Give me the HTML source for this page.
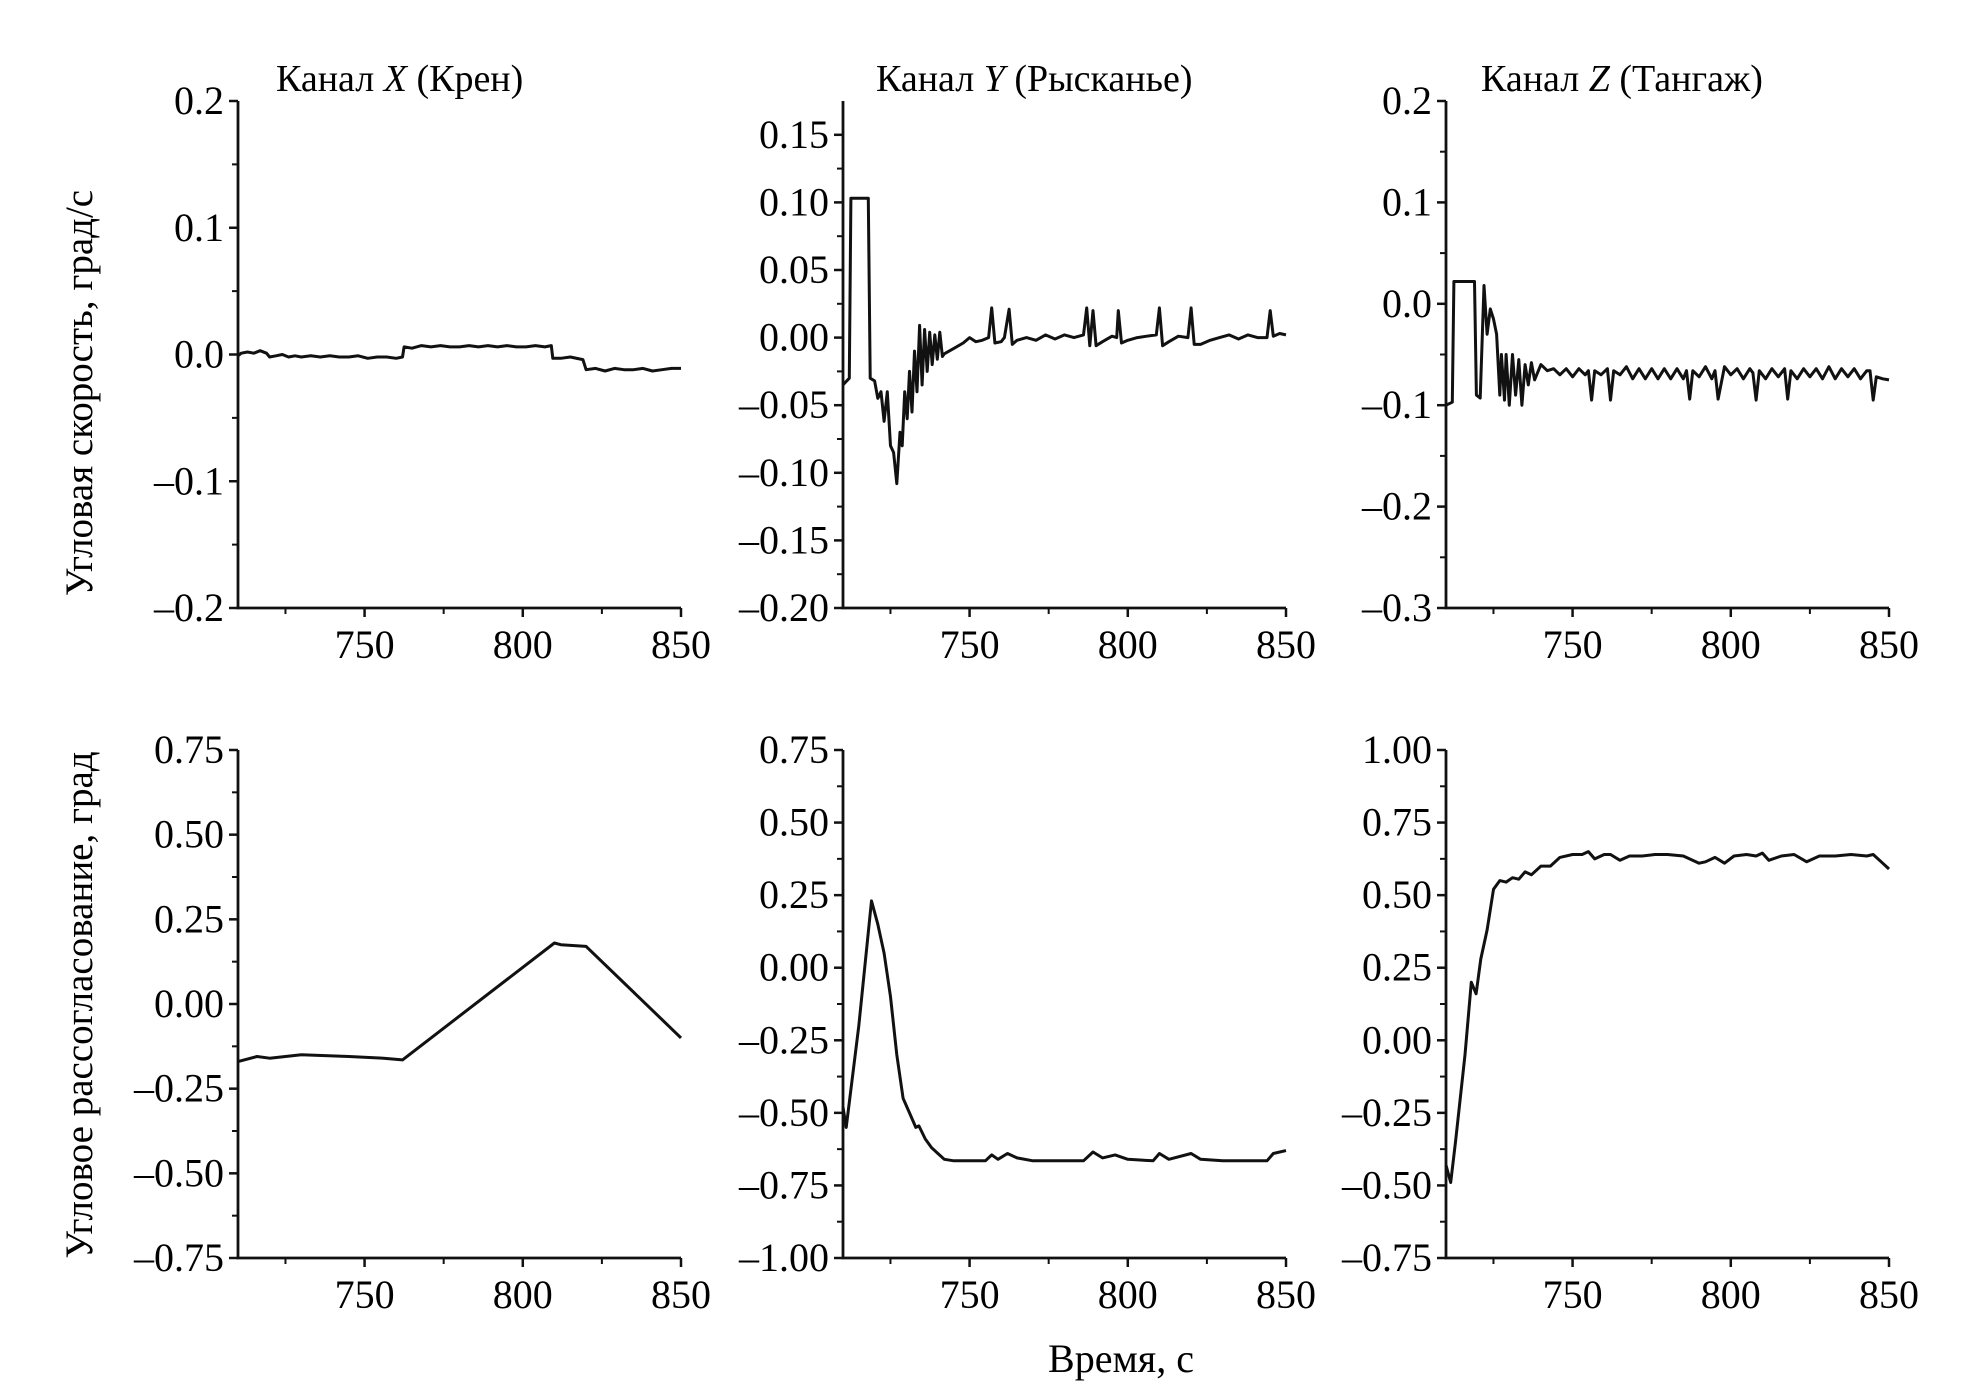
<!DOCTYPE html>
<html><head><meta charset="utf-8"><style>
html,body{margin:0;padding:0;background:#fff;}
svg{display:block;font-family:"Liberation Serif",serif;}
</style></head><body>
<svg id="fig" width="1972" height="1383" viewBox="0 0 1972 1383">
<text x="276" y="91" font-size="38">Канал <tspan font-style="italic">X</tspan> (Крен)</text>
<text x="876" y="91" font-size="38">Канал <tspan font-style="italic">Y</tspan> (Рысканье)</text>
<text x="1481" y="91" font-size="38">Канал <tspan font-style="italic">Z</tspan> (Тангаж)</text>
<text transform="translate(92,393) rotate(-90)" text-anchor="middle" font-size="39">Угловая скорость, град/с</text>
<text transform="translate(92,1005) rotate(-90)" text-anchor="middle" font-size="39">Угловое рассогласование, град</text>
<text x="1121" y="1372" text-anchor="middle" font-size="40">Время, с</text>
</svg>
<script>
// ---- data ----
const xTicks = [750, 800, 850];
const rateXt = [710,711,713,715,717,719,720,722,724,726,728,730,733,736,739,742,745,748,751,754,757,760,762,762.5,765,768,771,774,777,780,783,786,789,792,795,798,801,804,807,809,809.5,812,815,819,820,823,826,829,832,835,838,841,844,847,850];
const rateXv = [-0.001,0.001,0.002,0.001,0.003,0.001,-0.002,-0.001,0.0,-0.002,-0.001,-0.002,-0.001,-0.002,-0.001,-0.002,-0.002,-0.001,-0.003,-0.002,-0.002,-0.003,-0.002,0.006,0.005,0.007,0.006,0.007,0.006,0.006,0.007,0.006,0.007,0.006,0.007,0.006,0.006,0.007,0.006,0.007,-0.003,-0.003,-0.002,-0.004,-0.012,-0.011,-0.013,-0.011,-0.012,-0.012,-0.011,-0.013,-0.012,-0.011,-0.011];
const rateYt = [710,712,712.5,718,718.6,720,721,722,723,724,725,726,727,728,728.7,729.5,730.3,731,731.8,732.6,733.4,734.2,735,735.8,736.6,737.4,738.2,739,739.8,740.6,741.4,742,745,748,750,752,754,756,757,758,760,761,762.5,763.5,765,768,771,774,777,780,783,786,787,788,789,790,792,795,796.5,797,798,800,803,806,809,810,811,813,816,819,820,821,823,826,829,832,835,838,841,844,845,846,848,850];
const rateYv = [-0.035,-0.03,0.103,0.103,-0.03,-0.032,-0.045,-0.04,-0.062,-0.04,-0.08,-0.085,-0.108,-0.07,-0.08,-0.04,-0.06,-0.025,-0.055,-0.01,-0.04,0.009,-0.035,0.006,-0.025,0.004,-0.02,0.002,-0.016,0.004,-0.014,-0.012,-0.008,-0.004,0.0,-0.003,-0.002,0.0,0.022,-0.004,-0.003,0.0,0.021,-0.005,-0.002,0.0,-0.002,0.002,-0.001,0.002,0.0,0.002,0.022,-0.006,0.02,-0.006,-0.003,0.001,0.0,0.02,-0.004,-0.002,0.0,0.001,0.002,0.022,-0.006,-0.003,0.001,0.0,0.022,-0.005,-0.005,-0.002,0.0,0.002,-0.001,0.002,0.0,0.0,0.02,0.001,0.003,0.002];
const rateZt = [710,712,712.5,719,719.6,720.8,722,723,724,725,726,727,727.5,728.5,729,730,731,732,733,734,735,736,737,738,740,742,744,746,748,750,752,754,755,756,757,759,761,762,763,765,767,769,771,773,775,777,779,781,783,785,786,787,788,790,792,794,795,796,798,800,802,804,806,807,808,809,811,813,815,817,818,819,821,823,825,827,829,831,833,835,837,839,841,843,844,845,846,848,850];
const rateZv = [-0.1,-0.097,0.022,0.022,-0.09,-0.093,0.018,-0.03,-0.005,-0.015,-0.03,-0.09,-0.05,-0.095,-0.05,-0.1,-0.05,-0.09,-0.055,-0.1,-0.06,-0.08,-0.058,-0.075,-0.06,-0.066,-0.064,-0.07,-0.064,-0.072,-0.064,-0.07,-0.066,-0.095,-0.066,-0.07,-0.064,-0.095,-0.066,-0.07,-0.062,-0.074,-0.064,-0.074,-0.064,-0.074,-0.064,-0.074,-0.064,-0.074,-0.066,-0.094,-0.066,-0.072,-0.062,-0.074,-0.066,-0.094,-0.062,-0.07,-0.064,-0.074,-0.064,-0.068,-0.095,-0.066,-0.074,-0.064,-0.072,-0.064,-0.094,-0.066,-0.074,-0.064,-0.072,-0.064,-0.074,-0.062,-0.074,-0.064,-0.072,-0.064,-0.074,-0.066,-0.066,-0.095,-0.072,-0.074,-0.075];
const misXt = [710,716,720,730,745,756,762,810,812,820,850];
const misXv = [-0.17,-0.155,-0.16,-0.15,-0.155,-0.16,-0.165,0.18,0.175,0.17,-0.1];
const misYt = [710,711,715,719,721,723,725,727,729,731,733,734,736,738,740,742,745,750,755,757,759,762,765,770,786,789,792,796,800,808,810,813,820,823,830,844,846,850];
const misYv = [-0.48,-0.55,-0.2,0.23,0.15,0.05,-0.1,-0.3,-0.45,-0.5,-0.55,-0.545,-0.59,-0.62,-0.64,-0.66,-0.665,-0.665,-0.665,-0.645,-0.66,-0.64,-0.655,-0.665,-0.665,-0.635,-0.655,-0.645,-0.66,-0.665,-0.64,-0.66,-0.64,-0.66,-0.665,-0.665,-0.64,-0.63];
const misZt = [710,711.5,713,716,718,719.5,721,723,725,727,729,731,733,735,737,740,743,746,750,753,755,757,760,762,765,768,772,776,780,785,790,792,795,798,801,805,808,810,812,816,820,824,828,833,838,843,845,848,850];
const misZv = [-0.43,-0.49,-0.35,-0.05,0.2,0.16,0.28,0.38,0.52,0.55,0.545,0.56,0.555,0.58,0.57,0.6,0.6,0.63,0.64,0.64,0.65,0.625,0.64,0.64,0.62,0.635,0.635,0.64,0.64,0.635,0.61,0.615,0.63,0.61,0.635,0.64,0.635,0.645,0.62,0.635,0.64,0.615,0.635,0.635,0.64,0.635,0.64,0.61,0.59];
const yTicks1 = [-0.2,-0.1,0.0,0.1,0.2];
const yLabels1 = ["–0.2","–0.1","0.0","0.1","0.2"];
const yTicks2 = [-0.2,-0.15,-0.1,-0.05,0,0.05,0.1,0.15];
const yLabels2 = ["–0.20","–0.15","–0.10","–0.05","0.00","0.05","0.10","0.15"];
const yTicks3 = [-0.3,-0.2,-0.1,0.0,0.1,0.2];
const yLabels3 = ["–0.3","–0.2","–0.1","0.0","0.1","0.2"];
const yTicks4 = [-0.75,-0.5,-0.25,0,0.25,0.5,0.75];
const yLabels4 = ["–0.75","–0.50","–0.25","0.00","0.25","0.50","0.75"];
const yTicks5 = [-1,-0.75,-0.5,-0.25,0,0.25,0.5,0.75];
const yLabels5 = ["–1.00","–0.75","–0.50","–0.25","0.00","0.25","0.50","0.75"];
const yTicks6 = [-0.75,-0.5,-0.25,0,0.25,0.5,0.75,1.0];
const yLabels6 = ["–0.75","–0.50","–0.25","0.00","0.25","0.50","0.75","1.00"];

const NS = "http://www.w3.org/2000/svg";
const svg = document.getElementById('fig');
function mk(tag, attrs, parent){const e=document.createElementNS(NS,tag);for(const k in attrs)e.setAttribute(k,attrs[k]);(parent||svg).appendChild(e);return e;}

function panel(name, x0, x1, y0, y1, ymin, ymax, yt, yl, ts, vs){
  const g = mk('g',{});
  
  
  const sx = t => x0 + (t-710)/(850-710)*(x1-x0);
  const sy = v => y1 - (v-ymin)/(ymax-ymin)*(y1-y0);
  const ax = mk('path',{d:`M${x0},${y0} L${x0},${y1} L${x1},${y1}`,fill:'none',stroke:'#111','stroke-width':2.8},g);
  
  
  xTicks.forEach(t=>{
    const x=sx(t);
    mk('line',{x1:x,y1:y1,x2:x,y2:y1+9,stroke:'#111','stroke-width':2.5},g);
    const m=sx(t-25);
    mk('line',{x1:m,y1:y1,x2:m,y2:y1+6,stroke:'#111','stroke-width':2},g);
    const tx=mk('text',{x:x,y:y1+50,'text-anchor':'middle','font-size':40},g);
    tx.textContent=t;
    
    
  });
  yt.forEach((v,i)=>{
    const y=sy(v);
    mk('line',{x1:x0-9,y1:y,x2:x0,y2:y,stroke:'#111','stroke-width':2.5},g);
    if(i<yt.length-1){const my=sy((v+yt[i+1])/2);mk('line',{x1:x0-6,y1:my,x2:x0,y2:my,stroke:'#111','stroke-width':2},g);}
    const tx=mk('text',{x:x0-14,y:y+13,'text-anchor':'end','font-size':40},g);
    tx.textContent=yl[i];
    
    
  });
  const d = ts.map((t,i)=>(i?'L':'M')+sx(t).toFixed(1)+','+sy(vs[i]).toFixed(1)).join(' ');
  const p = mk('path',{d:d,fill:'none',stroke:'#111','stroke-width':3,'stroke-linejoin':'round'},g);
  
  
}
panel('rate-x-panel',238,681,101,608,-0.2,0.2,yTicks1,yLabels1,rateXt,rateXv);
panel('rate-y-panel',843,1286,101,608,-0.2,0.175,yTicks2,yLabels2,rateYt,rateYv);
panel('rate-z-panel',1446,1889,101,608,-0.3,0.2,yTicks3,yLabels3,rateZt,rateZv);
panel('mis-x-panel',238,681,750,1258,-0.75,0.75,yTicks4,yLabels4,misXt,misXv);
panel('mis-y-panel',843,1286,750,1258,-1.0,0.75,yTicks5,yLabels5,misYt,misYv);
panel('mis-z-panel',1446,1889,750,1258,-0.75,1.0,yTicks6,yLabels6,misZt,misZv);
</script>
</body></html>
